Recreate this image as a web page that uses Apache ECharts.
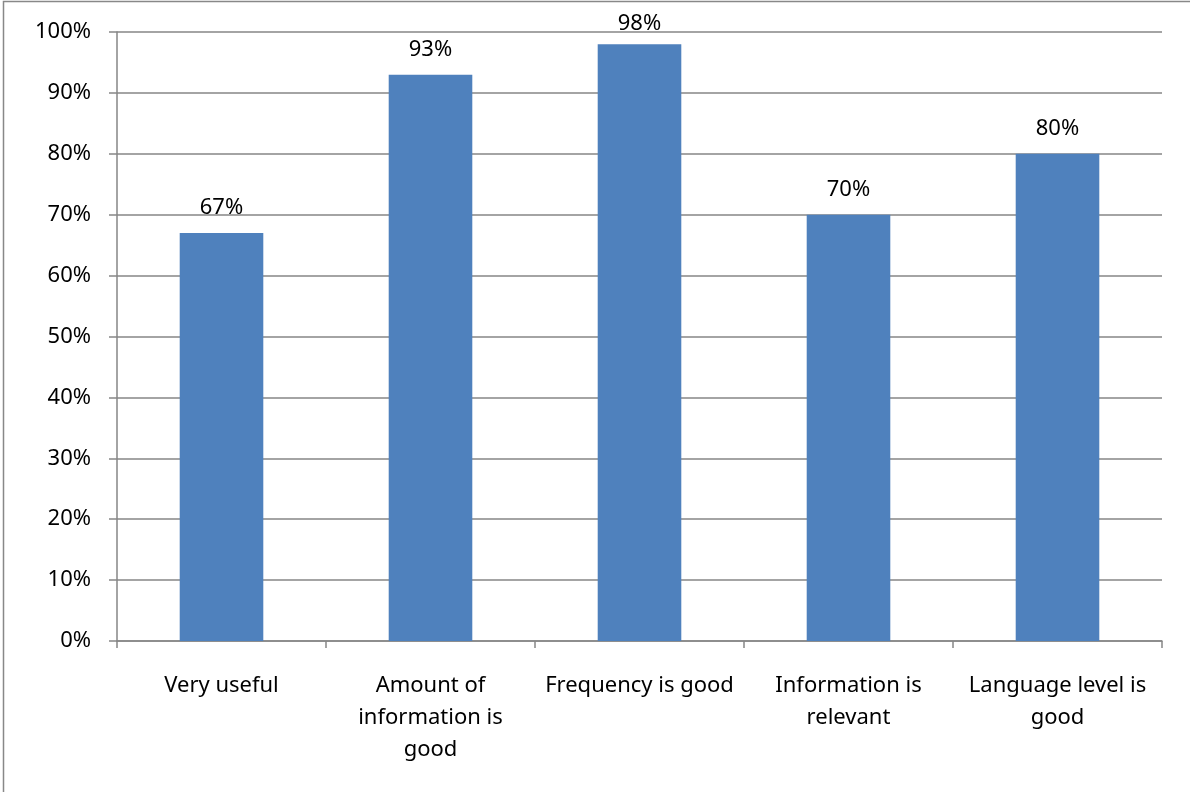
<!DOCTYPE html>
<html><head><meta charset="utf-8">
<script src="https://cdn.jsdelivr.net/npm/echarts@6/dist/echarts.min.js"></script>
<style>html,body{margin:0;padding:0;background:#fff}#c{width:1190px;height:792px}</style>
</head><body><div id="c"></div>
<script>
const categories = ["Very useful", "Amount of\ninformation is\ngood", "Frequency is good", "Information is\nrelevant", "Language level is\ngood"];
const values = [67, 93, 98, 70, 80];
const yTicks = {min: 0, max: 100, interval: 10};

const chart = echarts.init(document.getElementById('c'), null, {renderer: 'canvas'});
const font = 'Noto Sans, Arial, sans-serif';
// label near the top edge sits a little lower, as in the original
const seriesData = values.map(v => v >= 95 ? {value: v, label: {distance: 9}} : v);
chart.setOption({
  animation: false,
  backgroundColor: '#fff',
  graphic: [{type: 'rect', shape: {x: 3.5, y: 1.5, width: 1200, height: 900}, style: {fill: 'none', stroke: '#888', lineWidth: 1.5}, silent: true}],
  grid: {left: 117, right: 28, top: 32, bottom: 151, containLabel: false},
  xAxis: {
    type: 'category', data: categories,
    axisLine: {lineStyle: {color: '#868686', width: 1.5}},
    axisTick: {show: true, length: 7, alignWithLabel: false, lineStyle: {color: '#868686', width: 1.5}},
    axisLabel: {color: '#000', fontSize: 22, fontFamily: font, lineHeight: 32, margin: 29, interval: 0}
  },
  yAxis: {
    type: 'value', min: yTicks.min, max: yTicks.max, interval: yTicks.interval,
    axisLine: {show: true, lineStyle: {color: '#868686', width: 1.5}},
    axisTick: {show: true, length: 8, lineStyle: {color: '#868686', width: 1.5}},
    splitLine: {lineStyle: {color: '#868686', width: 1.5}},
    axisLabel: {color: '#000', fontSize: 22, fontFamily: font, margin: 26, formatter: v => v + '%'}
  },
  series: [{
    type: 'bar', data: seriesData, barWidth: '40%',
    itemStyle: {color: '#4F81BD'},
    label: {show: true, position: 'top', distance: 14, color: '#000', fontSize: 22, fontFamily: font, formatter: p => p.value + '%'}
  }]
});
</script></body></html>
